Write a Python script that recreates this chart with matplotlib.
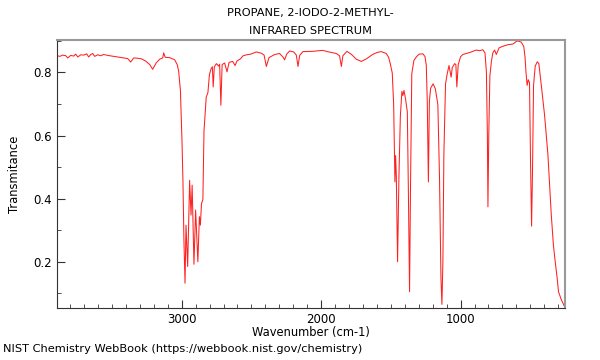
import numpy as np
import matplotlib
matplotlib.use("Agg")
from matplotlib import pyplot as plt
from matplotlib.ticker import MultipleLocator

# spectrum (wavenumber cm-1, transmittance)
wavenumber = [
    3892, 3874, 3853, 3831, 3817, 3796, 3774, 3760, 3745, 3724, 3702, 3681, 3667, 3652,
    3638, 3624, 3602, 3581, 3559, 3530, 3502, 3473, 3444, 3416, 3387, 3366, 3344, 3315,
    3287, 3258, 3229, 3208, 3183, 3158, 3136, 3129, 3118, 3086, 3050, 3032, 3022, 3009,
    2998, 2991, 2984, 2976, 2969, 2957, 2943, 2933, 2925, 2912, 2900, 2884, 2873, 2866,
    2858, 2848, 2840, 2824, 2812, 2801, 2789, 2780, 2774, 2766, 2751, 2735, 2728, 2719,
    2710, 2692, 2675, 2660, 2634, 2617, 2604, 2579, 2559, 2534, 2505, 2465, 2429, 2409,
    2393, 2374, 2333, 2298, 2274, 2262, 2247, 2226, 2197, 2178, 2166, 2154, 2131, 2061,
    1989, 1954, 1891, 1868, 1855, 1844, 1815, 1782, 1748, 1712, 1676, 1631, 1595, 1569,
    1533, 1516, 1504, 1490, 1480, 1471, 1466, 1461, 1452, 1442, 1432, 1421, 1414, 1406,
    1394, 1382, 1375, 1366, 1359, 1350, 1335, 1316, 1298, 1270, 1255, 1246, 1239, 1231,
    1224, 1215, 1197, 1181, 1163, 1151, 1141, 1134, 1127, 1120, 1108, 1096, 1083, 1068,
    1060, 1043, 1034, 1027, 1017, 1000, 984, 936, 888, 864, 840, 825, 815, 808,
    804, 798, 790, 779, 769, 756, 744, 724, 697, 661, 625, 601, 589, 565,
    547, 538, 531, 523, 515, 506, 498, 491, 484, 477, 465, 450, 439, 422,
    398, 374, 350, 334, 319, 308, 298, 278, 265, 255,
]
transmittance = [
    0.853, 0.851, 0.855, 0.853, 0.846, 0.854, 0.852, 0.858, 0.849, 0.856, 0.855, 0.859, 0.849, 0.857,
    0.860, 0.851, 0.856, 0.853, 0.857, 0.854, 0.852, 0.850, 0.848, 0.846, 0.844, 0.833, 0.846, 0.845,
    0.843, 0.836, 0.825, 0.810, 0.830, 0.842, 0.846, 0.862, 0.848, 0.847, 0.840, 0.825, 0.805, 0.743,
    0.585, 0.458, 0.270, 0.132, 0.316, 0.185, 0.458, 0.348, 0.443, 0.192, 0.364, 0.200, 0.343, 0.316,
    0.384, 0.397, 0.614, 0.722, 0.736, 0.793, 0.812, 0.818, 0.754, 0.818, 0.828, 0.820, 0.826, 0.696,
    0.825, 0.830, 0.802, 0.832, 0.835, 0.822, 0.836, 0.843, 0.853, 0.856, 0.858, 0.865, 0.861, 0.855,
    0.819, 0.847, 0.857, 0.860, 0.849, 0.840, 0.858, 0.868, 0.865, 0.855, 0.819, 0.854, 0.866, 0.867,
    0.870, 0.866, 0.860, 0.853, 0.819, 0.853, 0.867, 0.857, 0.842, 0.835, 0.843, 0.857, 0.864, 0.866,
    0.860, 0.848, 0.827, 0.798, 0.698, 0.453, 0.537, 0.474, 0.200, 0.474, 0.661, 0.740, 0.727, 0.743,
    0.714, 0.675, 0.443, 0.105, 0.443, 0.796, 0.838, 0.850, 0.858, 0.859, 0.850, 0.822, 0.706, 0.453,
    0.708, 0.750, 0.764, 0.748, 0.698, 0.460, 0.150, 0.065, 0.200, 0.540, 0.764, 0.796, 0.822, 0.785,
    0.815, 0.828, 0.825, 0.754, 0.825, 0.850, 0.857, 0.863, 0.871, 0.869, 0.872, 0.862, 0.801, 0.601,
    0.374, 0.601, 0.790, 0.835, 0.862, 0.871, 0.857, 0.878, 0.883, 0.888, 0.890, 0.898, 0.900, 0.896,
    0.882, 0.848, 0.800, 0.759, 0.777, 0.768, 0.500, 0.313, 0.500, 0.759, 0.820, 0.834, 0.828, 0.762,
    0.665, 0.540, 0.350, 0.250, 0.190, 0.150, 0.105, 0.080, 0.068, 0.058,
]

fig = plt.figure(figsize=(6, 3.6), dpi=100)
ax = fig.add_axes([0.095, 0.144, 0.847, 0.745])

ax.plot(wavenumber, transmittance, color="#ff2020", lw=0.75)

ax.set_xlim(3894, 250)
ax.set_ylim(0.053, 0.903)
ax.xaxis.set_major_locator(MultipleLocator(1000))
ax.xaxis.set_minor_locator(MultipleLocator(100))
ax.yaxis.set_major_locator(MultipleLocator(0.2))
ax.yaxis.set_minor_locator(MultipleLocator(0.1))
ax.tick_params(which="both", direction="in", top=False, right=False, labelsize=8.5, color="#333333")
ax.tick_params(which="major", length=6)
ax.tick_params(which="minor", length=3)

for s in ("top", "right"):
    ax.spines[s].set_color("#999999")
    ax.spines[s].set_linewidth(1.5)
for s in ("left", "bottom"):
    ax.spines[s].set_color("#333333")

ax.set_xlabel("Wavenumber (cm-1)", fontsize=8.3, labelpad=0)
ax.set_ylabel("Transmitance", fontsize=8.3, labelpad=9)
fig.text(0.518, 0.965, "PROPANE, 2-IODO-2-METHYL-", ha="center", va="center", fontsize=8.2)
fig.text(0.518, 0.915, "INFRARED SPECTRUM", ha="center", va="center", fontsize=8.2)
fig.text(0.005, 0.022, "NIST Chemistry WebBook (https://webbook.nist.gov/chemistry)", fontsize=8.2)

fig.savefig("out.png", dpi=100)
